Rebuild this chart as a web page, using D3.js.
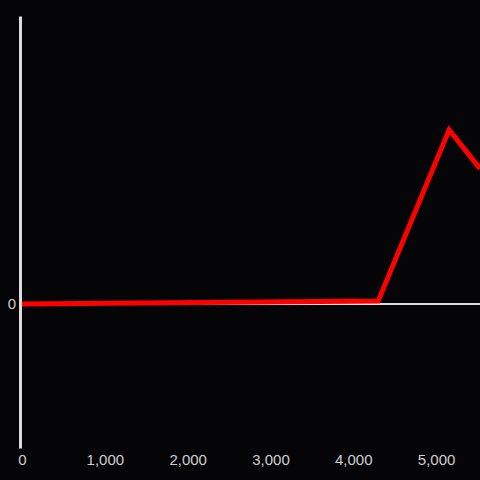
<!DOCTYPE html>
<html>
<head>
<meta charset="utf-8">
<script src="https://cdn.jsdelivr.net/npm/d3@7"></script>
<style>
  html, body { margin: 0; padding: 0; background: #050407; }
  svg { display: block; }
  .tick text { font-family: "Liberation Sans", Arial, sans-serif; font-size: 15px; fill: #cfcfcf; }
</style>
</head>
<body>
<script>
// values
const xValues = [0, 4300, 5157, 5530];
const yValues = [0, 2, 121, 94];
const xTicks = [0, 1000, 2000, 3000, 4000, 5000];
const yTicks = [0];

const width = 480,
    height = 480;

const svg = d3.select('body').append('svg')
    .attr('width', width)
    .attr('height', height);

svg.append('rect')
    .attr('width', width)
    .attr('height', height)
    .attr('fill', '#050407');

const x = d3.scaleLinear()
    .domain([0, 5530])
    .range([22, 480]);

const y = d3.scaleLinear()
    .domain([-100, 200])
    .range([448, 16]);

// x axis sits on y = 0, labels drop to the bottom
const xAxis = svg.append('g')
    .attr('transform', 'translate(0,' + y(0) + ')')
    .call(d3.axisBottom(x)
        .tickValues(xTicks)
        .tickFormat(d3.format(','))
        .tickSize(0)
        .tickPadding(448 - y(0) + 6));
xAxis.select('.domain')
    .attr('d', 'M20,0H480')
    .attr('stroke', '#dcdcdc')
    .attr('stroke-width', 2);

const yAxis = svg.append('g')
    .attr('transform', 'translate(20,0)')
    .call(d3.axisLeft(y)
        .tickValues(yTicks)
        .tickSize(0)
        .tickPadding(4));
yAxis.select('.domain')
    .attr('stroke', '#dcdcdc')
    .attr('stroke-width', 3);

const data = xValues.map((d, i) => [d, yValues[i]]);

const line = d3.line()
    .x(d => x(d[0]))
    .y(d => y(d[1]));

svg.append('path')
    .datum(data)
    .attr('d', line)
    .attr('fill', 'none')
    .attr('stroke', '#ff0000')
    .attr('stroke-width', 5)
    .attr('stroke-linejoin', 'miter');
</script>
</body>
</html>
